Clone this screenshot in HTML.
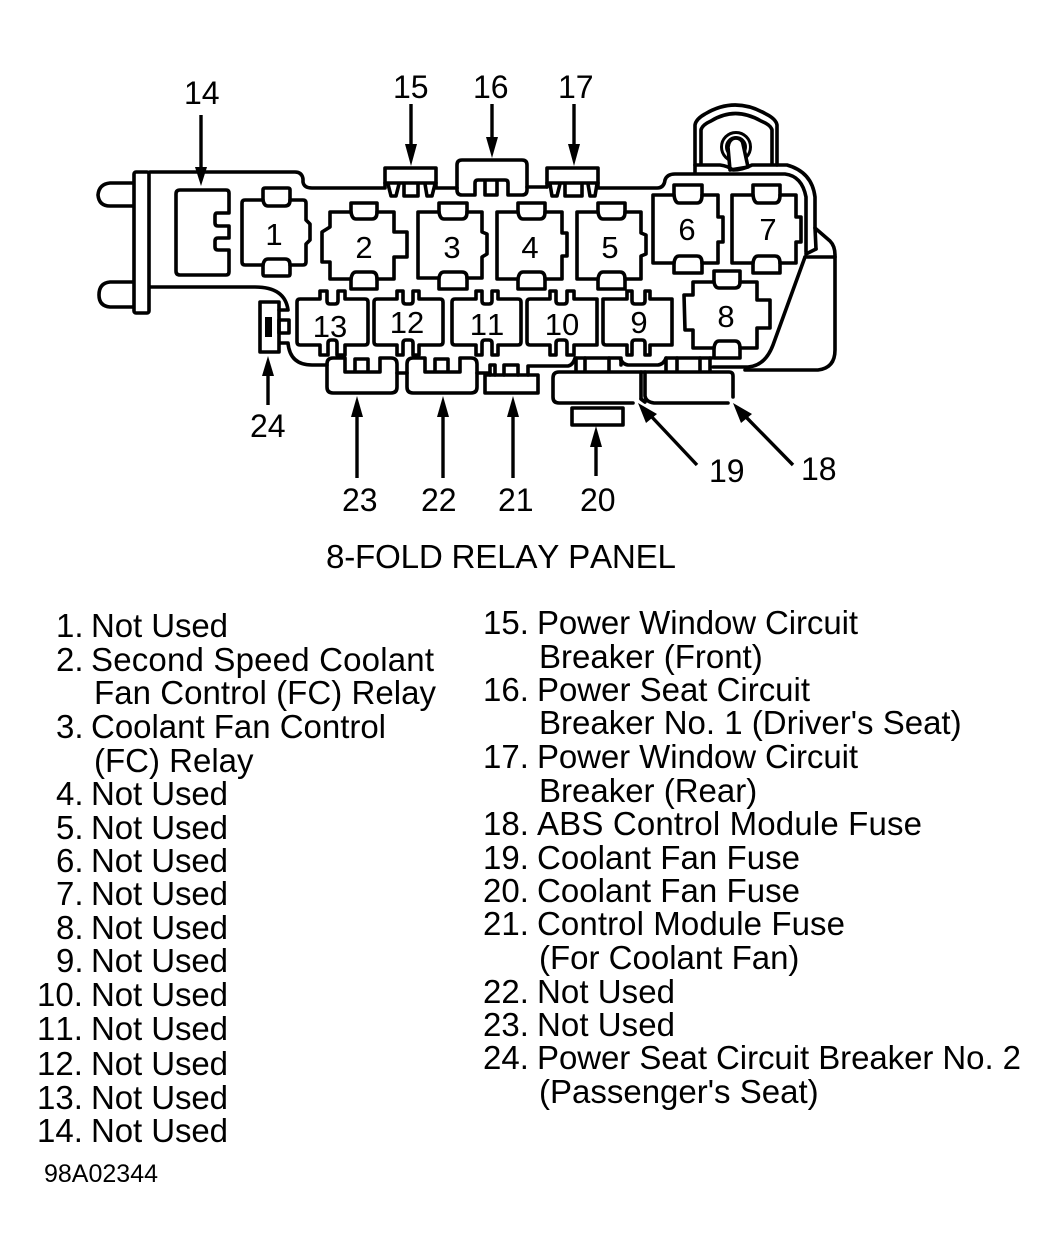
<!DOCTYPE html>
<html><head><meta charset="utf-8"><style>
html,body{margin:0;padding:0;background:#fff}
svg{display:block}
text{font-family:"Liberation Sans",sans-serif;fill:#000;font-kerning:none}
.l{font-size:33px}
.n{font-size:32px}
.r{font-size:31px;text-anchor:middle}
.s{fill:none;stroke:#000;stroke-width:3.6;stroke-linejoin:round;stroke-linecap:round}
.w{fill:#fff;stroke:#000;stroke-width:3.6;stroke-linejoin:round}
.a{fill:none;stroke:#000;stroke-width:3.4}
</style></head><body>
<svg width="1056" height="1258" viewBox="0 0 1056 1258" xmlns="http://www.w3.org/2000/svg">
<!-- handle -->
<path class="s" d="M695,172V125Q696,119 705,114Q735,96 766,114Q776,119 777,125V165"/>
<path class="s" d="M701,164V130Q702,125 711,121Q735,106 761,121Q771,125 772,130V164"/>
<circle class="s" cx="736" cy="147" r="14.5" style="stroke-width:3"/>
<circle class="s" cx="736" cy="147" r="9.5" style="stroke-width:3"/>
<path class="w" d="M730,170L728,147Q729,139 735,138Q742,138 743,144L748,167Z"/>
<!-- body -->
<path class="s" d="M150,172H295Q302,172 303,179V182Q304,188 312,188H385"/>
<path class="s" d="M436,188H457"/>
<path class="s" d="M527,187H547"/>
<path class="s" d="M598,188H657Q664,188 665,180Q667,174 675,174H785Q802,176 806,197V252"/>
<path class="s" d="M695,165H720Q728,166 733,170Q742,170 752,165H787Q812,172 815,197V228L830,241Q835,246 835,255V350Q835,368 818,370H745"/>
<path class="s" d="M815,228L816,249"/>
<path class="s" d="M805,257H835"/>
<path class="s" d="M806,254L816,249"/>
<path class="s" d="M805,257L773,345Q765,366 748,367H713"/>
<!-- left bar & pins -->
<path class="s" d="M133,183H110Q99,184 98,195Q99,206 110,206H133"/>
<path class="s" d="M133,282H110Q99,283 99,295Q99,306 110,307H133"/>
<rect class="s" x="134" y="172" width="15" height="141" rx="2"/>
<path class="s" d="M150,287H255Q285,287 288,310H279"/>
<path class="s" d="M280,343H288Q290,365 312,365H327"/>
<!-- 14 -->
<path class="s" d="M180,190H226Q229,190 229,193V213H217Q215,213 215,216V223Q215,226 218,226H229V238H218Q215,238 215,241V247Q215,250 218,250H229V272Q229,275 226,275H180Q176,275 176,271V194Q176,190 180,190Z"/>
<!-- relay 1 -->
<path class="s" d="M242,203Q242,200 245,200H263V190Q263,188 265,188H288Q290,188 290,190V200H303Q306,200 306,203V220L310,224V240L306,244V262Q306,265 303,265H290V274Q290,276 288,276H265Q263,276 263,274V265H245Q242,265 242,262Z"/>
<path class="s" d="M263,200Q264,206 268,206H285Q290,206 290,200M263,265Q264,259 268,259H285Q290,259 290,265"/>
<!-- relay 2 -->
<path class="s" d="M330,212H351V203H377V212H394V232H407V257H394V279H377V289H351V279H330V262H322V232L330,227Z"/>
<path class="s" d="M351,212Q352,219 356,219H372Q377,219 377,212M351,279Q352,272 356,272H372Q377,272 377,279"/>
<!-- relay 3 -->
<path class="s" d="M418,212H439V203H467V212H482V232L487,234V254L482,257V278H467V289H439V278H418Z"/>
<path class="s" d="M439,212Q440,219 444,219H462Q467,219 467,212M439,278Q440,272 444,272H462Q467,272 467,278"/>
<!-- relay 4 -->
<path class="s" d="M497,212H518V203H545V212H562V233H567V256H562V279H545V289H518V279H497Z"/>
<path class="s" d="M518,212Q519,219 523,219H540Q545,219 545,212M518,279Q519,272 523,272H540Q545,272 545,279"/>
<!-- relay 5 -->
<path class="s" d="M577,212H598V203H625V212H641V233L646,235V254L641,256V279H625V289H598V279H577Z"/>
<path class="s" d="M598,212Q599,219 603,219H620Q625,219 625,212M598,279Q599,272 603,272H620Q625,272 625,279"/>
<!-- relay 6 -->
<path class="s" d="M653,195H674V185H702V195H718V217H723V242H718V263H702V273H674V263H653Z"/>
<path class="s" d="M674,195Q675,203 679,203H697Q702,203 702,195M674,263Q675,256 679,256H697Q702,256 702,263"/>
<!-- relay 7 -->
<path class="s" d="M732,195H753V185H780V195H796V217H801V242H796V263H780V273H753V263H732Z"/>
<path class="s" d="M753,195Q754,203 758,203H775Q780,203 780,195M753,263Q754,256 758,256H775Q780,256 780,263"/>
<!-- relay 8 -->
<path class="s" d="M693,282H714V271H740V282H757V300H770V328H757V348H740V358H714V348H693V330H685L684,295H693Z"/>
<path class="s" d="M714,282Q715,288 719,288H735Q740,288 740,282M714,348Q715,341 719,341H735Q740,341 740,348"/>
<!-- small relays -->
<path class="s" d="M297,302Q297,299 300,299H320V291H327V301Q327,304 330,304H335Q338,304 338,301V291H345V299H365Q368,299 368,302V342Q368,345 365,345H345V355H337V343Q337,340 334,340H331Q328,340 328,343V355H320V345H300Q297,345 297,342Z"/>
<path class="s" d="M374,302Q374,299 377,299H397V291H403V301Q403,304 406,304H410Q413,304 413,301V291H419V299H440Q443,299 443,302V342Q443,345 440,345H419V355H413V343Q413,340 410,340H406Q403,340 403,343V355H397V345H377Q374,345 374,342Z"/>
<path class="s" d="M452,302Q452,299 455,299H476V291H482V301Q482,304 485,304H489Q492,304 492,301V291H498V299H518Q521,299 521,302V342Q521,345 518,345H498V355H492V343Q492,340 489,340H485Q482,340 482,343V355H476V345H455Q452,345 452,342Z"/>
<path class="s" d="M527,302Q527,299 530,299H550V291H556V301Q556,304 559,304H564Q567,304 567,301V291H574V299H597V345H574V355H567V343Q567,340 564,340H559Q556,340 556,343V355H550V345H530Q527,345 527,342Z"/>
<path class="s" d="M603,299H627V291H632V301Q632,304 635,304H642Q645,304 645,301V291H650V299H672V345H650V355H645V343Q645,340 642,340H635Q632,340 632,343V355H627V345H606Q603,345 603,342Z"/>
<!-- top fuses -->
<path class="s" d="M385,187V168H436V187"/>
<path class="s" d="M385,183H436M388,184L391,196H396L399,184M404,184V196H418V184M425,184L427,196H432L435,184"/>
<path class="s" d="M473,195H462Q457,195 457,190V165Q457,160 462,160H522Q527,160 527,165V190Q527,195 522,195H508V183Q508,180 505,180H478Q475,180 475,183V195ZM485,180V195H497V180"/>
<path class="s" d="M547,187V168H598V187"/>
<path class="s" d="M547,183H598M550,184L552,196H557L560,184M565,184V196H582V184M588,184L590,196H595L597,184"/>
<!-- 24 -->
<rect class="s" x="260" y="302" width="19" height="50"/>
<rect x="265" y="317" width="7" height="20" fill="#000"/>
<rect class="s" x="279" y="320" width="10" height="13"/>
<!-- 23, 22 -->
<path class="s" d="M345,358H333Q327,358 327,364V387Q327,393 333,393H391Q397,393 397,387V364Q397,358 391,358H380V372H345ZM355,372V359H368V372"/>
<path class="s" d="M425,358H413Q407,358 407,364V387Q407,393 413,393H471Q477,393 477,387V364Q477,358 471,358H460V372H425ZM435,372V359H448V372"/>
<path class="s" d="M397,373H407M477,373H490"/>
<!-- 21 -->
<rect class="s" x="485" y="375" width="53" height="18"/>
<path class="s" d="M490,375V365H495V375M504,375V365H518V375M528,375V366H568Q573,365 575,358H620Q622,364 628,365H658Q664,364 666,358H712"/>
<path class="s" d="M576,358V371M585,358V371M609,358V371M621,358V365M666,358V371M677,358V371M700,358V371M710,358V371"/>
<!-- 19,18,20 -->
<path class="s" d="M633,403H559Q553,403 553,397V378Q553,372 559,372H729Q733,372 733,376V397"/>
<path class="s" d="M641,372V398M645,372V396Q646,402 654,403H728" />
<path class="s" d="M641,399L645,402"/>
<rect class="s" x="572" y="408" width="51" height="17"/>
<!-- arrows -->
<path class="a" d="M201,115V172"/><path d="M201,186L195,167H207Z"/>
<path class="a" d="M411,104V150"/><path d="M411,166L405,144H417Z"/>
<path class="a" d="M492,104V145"/><path d="M492,158L486,137H498Z"/>
<path class="a" d="M574,104V150"/><path d="M574,166L568,144H580Z"/>
<path class="a" d="M268,405V370"/><path d="M268,356L262,376H274Z"/>
<path class="a" d="M357,478V412"/><path d="M357,396L351,417H363Z"/>
<path class="a" d="M443,478V412"/><path d="M443,396L437,417H449Z"/>
<path class="a" d="M513,478V412"/><path d="M513,396L507,417H519Z"/>
<path class="a" d="M596,476V440"/><path d="M596,426L590,447H602Z"/>
<path class="a" d="M697,465L650,415"/><path d="M638,403L657,414L646,423Z"/>
<path class="a" d="M793,465L745,416"/><path d="M733,403L752,414L741,423Z"/>
<!-- callouts -->
<text class="n" x="184" y="104">14</text>
<text class="n" x="393" y="98">15</text>
<text class="n" x="473" y="98">16</text>
<text class="n" x="558" y="98">17</text>
<text class="n" x="250" y="437">24</text>
<text class="n" x="342" y="511">23</text>
<text class="n" x="421" y="511">22</text>
<text class="n" x="498" y="511">21</text>
<text class="n" x="580" y="511">20</text>
<text class="n" x="709" y="482">19</text>
<text class="n" x="801" y="480">18</text>
<!-- relay numbers -->
<text class="r" x="274" y="245">1</text>
<text class="r" x="364" y="258">2</text>
<text class="r" x="452" y="258">3</text>
<text class="r" x="530" y="258">4</text>
<text class="r" x="610" y="258">5</text>
<text class="r" x="687" y="240">6</text>
<text class="r" x="768" y="240">7</text>
<text class="r" x="726" y="327">8</text>
<text class="r" x="639" y="333">9</text>
<text class="r" x="562" y="335">10</text>
<text class="r" x="487" y="335">11</text>
<text class="r" x="407" y="333">12</text>
<text class="r" x="330" y="337">13</text>
<!-- title -->
<text x="326" y="568" font-size="33.2" textLength="350">8-FOLD RELAY PANEL</text>
<!-- left list -->
<text class="l" x="56" y="637">1.</text><text class="l" x="91" y="637" textLength="137">Not Used</text>
<text class="l" x="56" y="671">2.</text><text class="l" x="91" y="671" textLength="343">Second Speed Coolant</text>
<text class="l" x="94" y="704" textLength="342">Fan Control (FC) Relay</text>
<text class="l" x="56" y="738">3.</text><text class="l" x="91" y="738" textLength="295">Coolant Fan Control</text>
<text class="l" x="94" y="772">(FC) Relay</text>
<text class="l" x="56" y="805">4.</text><text class="l" x="91" y="805" textLength="137">Not Used</text>
<text class="l" x="56" y="839">5.</text><text class="l" x="91" y="839" textLength="137">Not Used</text>
<text class="l" x="56" y="872">6.</text><text class="l" x="91" y="872" textLength="137">Not Used</text>
<text class="l" x="56" y="905">7.</text><text class="l" x="91" y="905" textLength="137">Not Used</text>
<text class="l" x="56" y="939">8.</text><text class="l" x="91" y="939" textLength="137">Not Used</text>
<text class="l" x="56" y="972">9.</text><text class="l" x="91" y="972" textLength="137">Not Used</text>
<text class="l" x="37" y="1006">10.</text><text class="l" x="91" y="1006" textLength="137">Not Used</text>
<text class="l" x="37" y="1040">11.</text><text class="l" x="91" y="1040" textLength="137">Not Used</text>
<text class="l" x="37" y="1075">12.</text><text class="l" x="91" y="1075" textLength="137">Not Used</text>
<text class="l" x="37" y="1109">13.</text><text class="l" x="91" y="1109" textLength="137">Not Used</text>
<text class="l" x="37" y="1142">14.</text><text class="l" x="91" y="1142" textLength="137">Not Used</text>
<!-- right list -->
<text class="l" x="483" y="634">15.</text><text class="l" x="537" y="634" textLength="321">Power Window Circuit</text>
<text class="l" x="539" y="668">Breaker (Front)</text>
<text class="l" x="483" y="701">16.</text><text class="l" x="537" y="701" textLength="273">Power Seat Circuit</text>
<text class="l" x="539" y="734">Breaker No. 1 (Driver's Seat)</text>
<text class="l" x="483" y="768">17.</text><text class="l" x="537" y="768" textLength="321">Power Window Circuit</text>
<text class="l" x="539" y="802">Breaker (Rear)</text>
<text class="l" x="483" y="835">18.</text><text class="l" x="537" y="835" textLength="385">ABS Control Module Fuse</text>
<text class="l" x="483" y="869">19.</text><text class="l" x="537" y="869" textLength="263">Coolant Fan Fuse</text>
<text class="l" x="483" y="902">20.</text><text class="l" x="537" y="902" textLength="263">Coolant Fan Fuse</text>
<text class="l" x="483" y="935">21.</text><text class="l" x="537" y="935" textLength="308">Control Module Fuse</text>
<text class="l" x="539" y="969">(For Coolant Fan)</text>
<text class="l" x="483" y="1003">22.</text><text class="l" x="537" y="1003" textLength="138">Not Used</text>
<text class="l" x="483" y="1036">23.</text><text class="l" x="537" y="1036" textLength="138">Not Used</text>
<text class="l" x="483" y="1069">24.</text><text class="l" x="537" y="1069" textLength="484">Power Seat Circuit Breaker No. 2</text>
<text class="l" x="539" y="1103">(Passenger's Seat)</text>
<text x="44" y="1182" font-size="25">98A02344</text>
</svg>
</body></html>
